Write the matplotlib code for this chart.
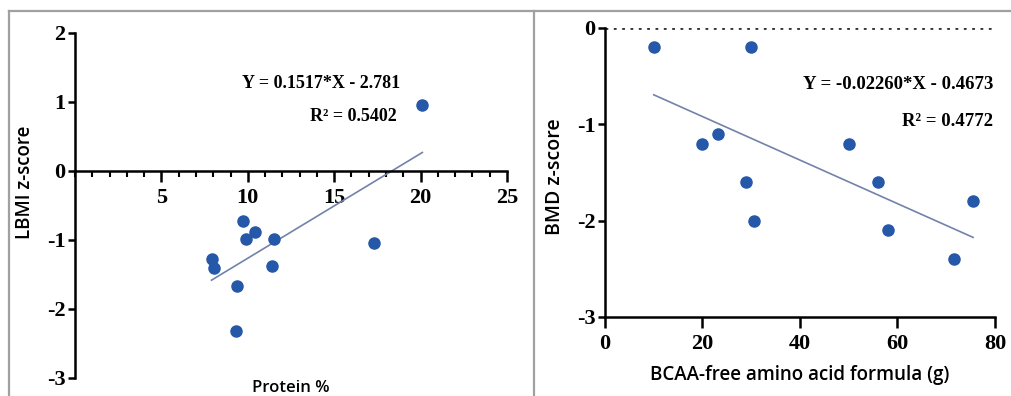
import matplotlib
matplotlib.use("Agg")
import matplotlib.pyplot as plt
from matplotlib.lines import Line2D
from matplotlib.ticker import MultipleLocator
import numpy as np

# ---- data ----
protein_pct = [20.1, 9.7, 9.9, 10.4, 11.5, 11.4, 7.9, 8.05, 9.4, 9.3, 17.3]
lbmi_z = [0.96, -0.73, -0.99, -0.89, -0.98, -1.38, -1.27, -1.40, -1.67, -2.32, -1.04]
fit_left = (0.1517, -2.781, 0.5402)

bcaa_g = [10, 30, 20, 23.2, 29, 30.6, 50, 56, 58, 71.5, 75.5]
bmd_z = [-0.2, -0.2, -1.2, -1.1, -1.6, -2.0, -1.2, -1.6, -2.1, -2.4, -1.8]
fit_right = (-0.02260, -0.4673, 0.4772)

DOT = "#2558a8"
FIT = "#7382aa"
SERIF = "Liberation Serif"
SANS = "Open Sans"

fig = plt.figure(figsize=(10.12, 3.96), dpi=100)

# panel frames
for x0, y0, x1, y1 in [(0.009, 0.972, 1.0, 0.972), (0.009, 0.0, 0.009, 0.972),
                       (0.5277, 0.0, 0.5277, 0.972)]:
    fig.add_artist(Line2D([x0, x1], [y0, y1], color="#a0a0a0", lw=1.6,
                          transform=fig.transFigure))


def style(ax):
    for s in ("top", "right"):
        ax.spines[s].set_visible(False)
    for s in ("left", "bottom"):
        ax.spines[s].set_linewidth(1.8)
    ax.tick_params(width=1.8, length=5, direction="out", pad=2)
    for lab in ax.get_xticklabels() + ax.get_yticklabels():
        lab.set_fontfamily(SERIF)
        lab.set_fontweight("bold")
        lab.set_fontsize(16)


# ---- left: protein % vs LBMI ----
ax = fig.add_axes([0.0741, 0.0455, 0.4269, 0.8712])
ax.set_xlim(0, 25)
ax.set_ylim(-3, 2)
ax.spines["bottom"].set_position(("data", 0))
ax.xaxis.set_major_locator(MultipleLocator(5))
ax.xaxis.set_minor_locator(MultipleLocator(1))
ax.set_xticks([5, 10, 15, 20, 25])
ax.set_yticks([-3, -2, -1, 0, 1, 2])
ax.set_yticklabels(["-3", "-2", "-1", "0", "1", "2"])
ax.scatter(protein_pct, lbmi_z, s=64, color=DOT, zorder=3, clip_on=False)
xs = np.array([min(protein_pct), max(protein_pct)])
ax.plot(xs, fit_left[0] * xs + fit_left[1], color=FIT, lw=1.2)
style(ax)
ax.tick_params(axis="x", which="major", length=8, pad=4)
ax.tick_params(axis="x", which="minor", length=4, width=1.5)
ax.set_ylabel("LBMI z-score", fontfamily=SANS, fontsize=13.5, fontweight="semibold")
ax.yaxis.set_label_coords(-0.092, 0.568)
ax.text(0.5, -0.005, "Protein %", transform=ax.transAxes, ha="center", va="top",
        fontfamily=SANS, fontsize=12, fontweight="semibold")
ax.text(0.752, 0.855, f"Y = {fit_left[0]:.4f}*X - {abs(fit_left[1]):.3f}",
        transform=ax.transAxes, ha="right", va="center", fontfamily=SERIF,
        fontweight="bold", fontsize=13)
ax.text(0.745, 0.757, f"R² = {fit_left[2]:.4f}", transform=ax.transAxes,
        ha="right", va="center", fontfamily=SERIF, fontweight="bold", fontsize=13)

# ---- right: BCAA-free formula vs BMD ----
ax = fig.add_axes([0.5978, 0.1995, 0.3854, 0.7298])
ax.set_xlim(0, 80)
ax.set_ylim(-3, 0)
ax.set_xticks([0, 20, 40, 60, 80])
ax.set_yticks([-3, -2, -1, 0])
ax.set_yticklabels(["-3", "-2", "-1", "0"])
ax.axhline(0, color="#333333", lw=2, ls=(0, (1, 2)))
ax.scatter(bcaa_g, bmd_z, s=64, color=DOT, zorder=3, clip_on=False)
xs = np.array([min(bcaa_g), max(bcaa_g)])
ax.plot(xs, fit_right[0] * xs + fit_right[1], color=FIT, lw=1.2)
style(ax)
ax.tick_params(axis="x", length=8, pad=4)
ax.set_ylabel("BMD z-score", fontfamily=SANS, fontsize=14, fontweight="semibold")
ax.yaxis.set_label_coords(-0.102, 0.484)
ax.set_xlabel("BCAA-free amino acid formula (g)", fontfamily=SANS, fontsize=13.5,
              fontweight="semibold", labelpad=8)
ax.text(0.995, 0.803, f"Y = {fit_right[0]:.5f}*X - {abs(fit_right[1]):.4f}",
        transform=ax.transAxes, ha="right", va="center", fontfamily=SERIF,
        fontweight="bold", fontsize=13.5)
ax.text(0.995, 0.675, f"R² = {fit_right[2]:.4f}", transform=ax.transAxes,
        ha="right", va="center", fontfamily=SERIF, fontweight="bold", fontsize=13.5)

fig.savefig("out.png", dpi=100)
